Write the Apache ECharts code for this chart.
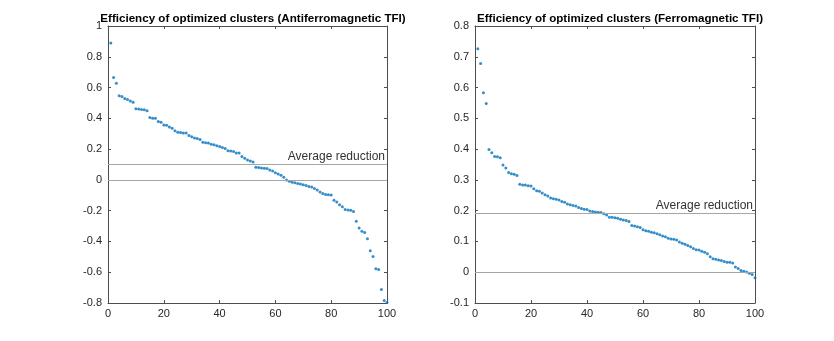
<!DOCTYPE html>
<html>
<head>
<meta charset="utf-8">
<script src="https://cdn.jsdelivr.net/npm/echarts@6/dist/echarts.min.js"></script>
<style>
html, body { margin: 0; padding: 0; background: #fff; }
#main { width: 834px; height: 341px; }
</style>
</head>
<body>
<div id="main"></div>
<script>
// efficiency per cluster, sorted
var antiferro = [
    0.890, 0.665, 0.628, 0.546, 0.542, 0.529, 0.523, 0.512, 0.505, 0.462,
    0.460, 0.458, 0.456, 0.449, 0.406, 0.400, 0.400, 0.379, 0.374, 0.357,
    0.355, 0.344, 0.336, 0.320, 0.310, 0.308, 0.305, 0.305, 0.288, 0.280,
    0.273, 0.269, 0.262, 0.245, 0.241, 0.239, 0.232, 0.228, 0.222, 0.217,
    0.211, 0.204, 0.189, 0.187, 0.185, 0.174, 0.174, 0.152, 0.140, 0.130,
    0.122, 0.116, 0.082, 0.080, 0.078, 0.076, 0.074, 0.065, 0.057, 0.046,
    0.039, 0.030, 0.017, 0.000, -0.009, -0.015, -0.019, -0.024, -0.026, -0.032,
    -0.036, -0.043, -0.047, -0.056, -0.065, -0.078, -0.088, -0.095, -0.097, -0.099,
    -0.132, -0.143, -0.162, -0.175, -0.193, -0.196, -0.197, -0.205, -0.268, -0.312,
    -0.333, -0.342, -0.383, -0.461, -0.498, -0.578, -0.582, -0.712, -0.784, -0.797
];
var ferro = [
    0.726, 0.678, 0.583, 0.548, 0.399, 0.388, 0.376, 0.375, 0.372, 0.348,
    0.339, 0.324, 0.320, 0.318, 0.314, 0.286, 0.283, 0.283, 0.281, 0.280,
    0.271, 0.265, 0.263, 0.257, 0.252, 0.248, 0.241, 0.239, 0.237, 0.235,
    0.230, 0.227, 0.222, 0.219, 0.217, 0.215, 0.210, 0.207, 0.205, 0.204,
    0.199, 0.197, 0.196, 0.195, 0.194, 0.190, 0.186, 0.179, 0.179, 0.177,
    0.175, 0.172, 0.170, 0.168, 0.165, 0.152, 0.150, 0.148, 0.145, 0.138,
    0.135, 0.133, 0.130, 0.128, 0.125, 0.122, 0.118, 0.115, 0.110, 0.108,
    0.107, 0.105, 0.098, 0.094, 0.091, 0.087, 0.083, 0.077, 0.073, 0.072,
    0.068, 0.065, 0.060, 0.050, 0.044, 0.042, 0.040, 0.038, 0.035, 0.032,
    0.032, 0.030, 0.017, 0.012, 0.006, 0.003, 0.001, -0.003, -0.007, -0.018
];
var avgAntiferro = 0.102;
var avgFerro = 0.188;
var titles = [
    'Efficiency of optimized clusters (Antiferromagnetic TFI)',
    'Efficiency of optimized clusters (Ferromagnetic TFI)'
];
var refLabel = 'Average reduction';

function toPoints(vals) {
    var out = [];
    for (var i = 0; i < vals.length; i++) {
        out.push([i + 1, vals[i]]);
    }
    return out;
}

var myChart = echarts.init(document.getElementById('main'));
var font = 'Liberation Sans, Arial, Helvetica, sans-serif';
var axisCol = '#4d4d4d';

function xAx(grid, pos) {
    return {
        type: 'value', gridIndex: grid, position: pos,
        min: 0, max: 100, interval: 20,
        axisLine: { show: true, onZero: false, lineStyle: { color: axisCol, width: 1 } },
        axisTick: { show: true, inside: true, length: 3, lineStyle: { color: axisCol } },
        axisLabel: { show: pos == 'bottom', color: '#262626', fontSize: 11, fontFamily: font, margin: 5 },
        splitLine: { show: false }
    };
}
function yAx(grid, pos, min, max, step) {
    return {
        type: 'value', gridIndex: grid, position: pos,
        min: min, max: max, interval: step,
        axisLine: { show: true, onZero: false, lineStyle: { color: axisCol, width: 1 } },
        axisTick: { show: true, inside: true, length: 3, lineStyle: { color: axisCol } },
        axisLabel: { show: pos == 'left', color: '#262626', fontSize: 11, fontFamily: font, margin: 6 },
        splitLine: { show: false }
    };
}
function refLines(avg) {
    return {
        silent: true,
        symbol: 'none',
        animation: false,
        lineStyle: { color: '#a6a6a6', width: 1, type: 'solid' },
        data: [
            { yAxis: avg, label: { show: true, position: 'insideEndTop', formatter: refLabel,
                color: '#333', fontSize: 12, fontFamily: font, distance: 2 } },
            { yAxis: 0, label: { show: false } }
        ]
    };
}

option = {
    animation: false,
    backgroundColor: '#fff',
    title: [
        { text: titles[0], left: 248, top: 8, textAlign: 'center',
          textStyle: { fontSize: 11.6, fontWeight: 'bold', color: '#000', fontFamily: font } },
        { text: titles[1], left: 615, top: 8, textAlign: 'center',
          textStyle: { fontSize: 11.6, fontWeight: 'bold', color: '#000', fontFamily: font } }
    ],
    grid: [
        { left: 108, top: 26, width: 279, height: 277 },
        { left: 475, top: 26, width: 280, height: 277 }
    ],
    xAxis: [xAx(0, 'bottom'), xAx(0, 'top'), xAx(1, 'bottom'), xAx(1, 'top')],
    yAxis: [
        yAx(0, 'left', -0.8, 1, 0.2), yAx(0, 'right', -0.8, 1, 0.2),
        yAx(1, 'left', -0.1, 0.8, 0.1), yAx(1, 'right', -0.1, 0.8, 0.1)
    ],
    series: [
        {
            type: 'scatter', xAxisIndex: 0, yAxisIndex: 0,
            symbol: 'circle', symbolSize: 3,
            itemStyle: { color: '#0072bd' },
            data: toPoints(antiferro),
            markLine: refLines(avgAntiferro),
            z: 3
        },
        {
            type: 'scatter', xAxisIndex: 2, yAxisIndex: 2,
            symbol: 'circle', symbolSize: 3,
            itemStyle: { color: '#0072bd' },
            data: toPoints(ferro),
            markLine: refLines(avgFerro),
            z: 3
        }
    ]
};

myChart.setOption(option);
</script>
</body>
</html>
